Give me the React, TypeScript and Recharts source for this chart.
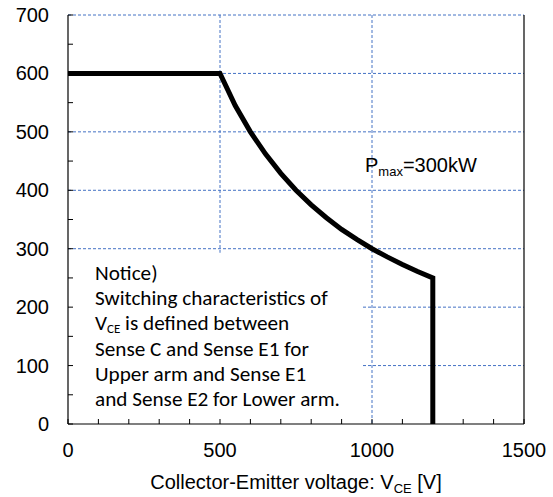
import React from 'react';
import {
  LineChart, Line, XAxis, YAxis, CartesianGrid, ReferenceArea, ReferenceDot, ReferenceLine,
} from 'recharts';

// RBSOA curve: collector-emitter voltage [V] vs collector current [A]
const voltage = [0, 500, 550, 600, 650, 700, 750, 800, 850, 900, 950, 1000, 1050, 1100, 1150, 1200, 1200];
const current = [600, 600, 545, 500, 462, 429, 400, 375, 353, 333, 316, 300, 286, 273, 261, 250, 0];

const xTicks = [0, 100, 200, 300, 400, 500, 600, 700, 800, 900, 1000, 1100, 1200, 1300, 1400, 1500];
const xLabels = [0, 500, 1000, 1500];
const yTicks = [0, 50, 100, 150, 200, 250, 300, 350, 400, 450, 500, 550, 600, 650, 700];
const yLabels = [0, 100, 200, 300, 400, 500, 600, 700];
const gridX = [500, 1000];
const gridY = [100, 200, 300, 400, 500, 600, 700];

const noticeLines = [
  'Notice)',
  'Switching characteristics of',
  'V_CE is defined between',
  'Sense C and Sense E1 for',
  'Upper arm and Sense  E1',
  'and Sense E2 for Lower arm.',
];

const data = voltage.map((v, i) => ({ v, ic: current[i] }));

const axisFont = '"Liberation Sans", Arial, sans-serif';
const noteFont = 'Carlito, Calibri, Lato, sans-serif';

const XTick = (props: any) => {
  const { x, y, payload } = props;
  const major = xLabels.includes(payload.value);
  return (
    <g>
      <line x1={x} y1={y} x2={x} y2={y - 5} stroke="#000" />
      {major && (
        <text x={x} y={y + 33} textAnchor="middle" fontSize={20} fontFamily={axisFont} fill="#000">
          {payload.value}
        </text>
      )}
    </g>
  );
};

const YTick = (props: any) => {
  const { x, y, payload } = props;
  const major = yLabels.includes(payload.value);
  return (
    <g>
      <line x1={x} y1={y} x2={x + 5} y2={y} stroke="#000" />
      {major && (
        <text x={x - 19} y={y + 7} textAnchor="end" fontSize={20} fontFamily={axisFont} fill="#000">
          {payload.value}
        </text>
      )}
    </g>
  );
};

const NoticeLabel = (props: any) => {
  const { viewBox } = props;
  const x0 = viewBox.x + 27;
  const y0 = viewBox.y + 27;
  return (
    <text fontFamily={noteFont} fontSize={21.2} fill="#000">
      {noticeLines.map((line, i) => {
        if (line.startsWith('V_CE')) {
          return (
            <tspan key={i} x={x0} y={y0 + i * 25.3}>
              V<tspan fontSize={13} dy={3}>CE</tspan>
              <tspan dy={-3}>{line.slice(4)}</tspan>
            </tspan>
          );
        }
        return (
          <tspan key={i} x={x0} y={y0 + i * 25.3}>
            {line}
          </tspan>
        );
      })}
    </text>
  );
};

const PmaxLabel = (props: any) => {
  const { viewBox } = props;
  return (
    <text x={viewBox.x} y={viewBox.y} fontFamily={axisFont} fontSize={20} fill="#000">
      P<tspan fontSize={13} dy={4}>max</tspan>
      <tspan dy={-4}>=300kW</tspan>
    </text>
  );
};

const XTitle = (props: any) => {
  const { viewBox } = props;
  return (
    <text
      x={viewBox.x + viewBox.width / 2}
      y={viewBox.y + 65}
      textAnchor="middle"
      fontFamily={axisFont}
      fontSize={20}
      fill="#000"
    >
      Collector-Emitter voltage: V<tspan fontSize={13} dy={4}>CE</tspan>
      <tspan dy={-4}> [V]</tspan>
    </text>
  );
};

export default function App() {
  return (
    <div style={{ position: 'absolute', left: 0, top: 0, background: '#fff' }}>
      <LineChart width={553} height={497} data={data} margin={{ top: 15, right: 29, bottom: 13, left: 8 }}>
        <CartesianGrid
          horizontalValues={gridY}
          verticalValues={gridX}
          stroke="#4472C4"
          strokeDasharray="3 2"
        />
        <ReferenceArea x1={0} x2={970} y1={0} y2={293} fill="#fff" fillOpacity={1} stroke="none" label={<NoticeLabel />} />
        <ReferenceLine x={1500} stroke="#000" strokeWidth={1.2} />
        <ReferenceDot x={977} y={431} r={0} fill="none" stroke="none" label={<PmaxLabel />} />
        <XAxis
          dataKey="v"
          type="number"
          domain={[0, 1500]}
          ticks={xTicks}
          interval={0}
          tickSize={0}
          tickMargin={0}
          tick={<XTick />}
          height={60}
          axisLine={{ stroke: '#000', strokeWidth: 1.2 }}
          label={<XTitle />}
        />
        <YAxis
          type="number"
          domain={[0, 700]}
          ticks={yTicks}
          interval={0}
          tickSize={0}
          tickMargin={0}
          tick={<YTick />}
          width={60}
          axisLine={{ stroke: '#000', strokeWidth: 1.2 }}
        />
        <Line
          type="linear"
          dataKey="ic"
          stroke="#000"
          strokeWidth={5}
          dot={false}
          isAnimationActive={false}
        />
      </LineChart>
    </div>
  );
}
